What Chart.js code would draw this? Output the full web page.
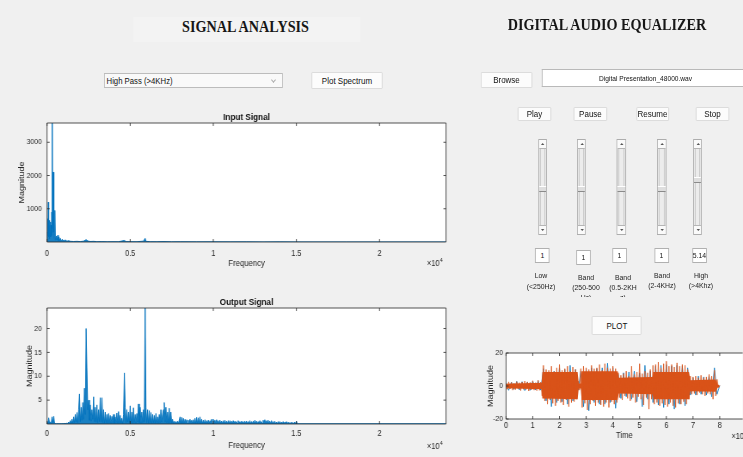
<!DOCTYPE html>
<html>
<head>
<meta charset="utf-8">
<script src="https://cdn.jsdelivr.net/npm/chart.js"></script>
<style>
html, body { margin: 0; padding: 0; width: 743px; height: 457px; overflow: hidden; background: #f0f0f0; }
/* the screenshot is squeezed horizontally, so the page is laid out wider and scaled */
#stage { position: absolute; left: 0; top: 0; width: 864px; height: 457px; overflow: hidden; transform: scaleX(0.86); transform-origin: 0 0;
         font-family: 'Liberation Sans', Arial, sans-serif; color: #111; }
.abs { position: absolute; }
.title { position: absolute; font-family: 'Liberation Serif', 'Times New Roman', serif; font-weight: bold; font-size: 16.5px;
         line-height: 1; white-space: nowrap; transform: translateX(-50%); color: #161616; }
.btn { position: absolute; box-sizing: border-box; background: #fcfcfc; border: 1px solid #d9d9d9; border-radius: 1px;
       font-size: 9.3px; display: flex; align-items: center; justify-content: center; white-space: nowrap; }
.popup { position: absolute; box-sizing: border-box; background: #f9f9f9; border: 1px solid #bcbcbc; font-size: 9px;
         display: flex; align-items: center; padding-left: 2px; }
.chev { position: absolute; right: 8px; top: 4px; width: 3px; height: 3px; border-right: 1px solid #aaa; border-bottom: 1px solid #aaa; transform: rotate(45deg); }
.edit { position: absolute; box-sizing: border-box; background: #fff; border: 1px solid #b9b9b9; border-right: none; display: flex; align-items: center; justify-content: center; white-space: nowrap; }
.slider { position: absolute; top: 139px; width: 10.5px; height: 96px; box-sizing: border-box; border: 1px solid #adadad; background: #ececec; }
.slider .arr { position: absolute; left: 0; right: 0; height: 8px; background: #fafafa; }
.slider .up { top: 0; border-bottom: 1px solid #b5b5b5; }
.slider .dn { bottom: 0; border-top: 1px solid #b5b5b5; }
.slider .up::after, .slider .dn::after { content: ''; position: absolute; left: 2.8px; top: 3px; width: 0; height: 0;
         border-left: 2px solid transparent; border-right: 2px solid transparent; }
.slider .up::after { border-bottom: 2px solid #555; }
.slider .dn::after { border-top: 2px solid #555; }
.slider .track { position: absolute; left: 1px; right: 1px; top: 9px; bottom: 9px; border-left: 1px solid #c8c8c8; border-right: 1px solid #c8c8c8; }
.slider .thumb { position: absolute; left: 0; right: 0; height: 4px; background: #dedede; border-top: 1px solid #fff; border-bottom: 1px solid #8a8a8a; }
.val { position: absolute; box-sizing: border-box; width: 17.4px; height: 15px; background: #fff; border: 1px solid #b0b0b0;
       font-size: 8px; display: flex; align-items: center; justify-content: center; }
.lab { position: absolute; width: 46px; margin-left: -23px; text-align: center; font-size: 8px; overflow: hidden; color: #222; }
.plot { position: absolute; }
</style>
</head>
<body>
<div id="stage">
  <div class="abs" style="left:154.7px;top:17px;width:264px;height:25px;background:#f3f3f3"></div>
  <div class="title" style="left:285.5px;top:19.2px">SIGNAL ANALYSIS</div>
  <div class="title" style="left:705.8px;top:16.7px">DIGITAL AUDIO EQUALIZER</div>

  <div class="popup" style="left:120.9px;top:73px;width:208px;height:15px">High Pass (&gt;4KHz)<i class="chev"></i></div>
  <div class="btn" style="left:361.6px;top:72px;width:83.7px;height:17px">Plot Spectrum</div>

  <div class="btn" style="left:559.3px;top:72px;width:59.3px;height:16px">Browse</div>
  <div class="edit" style="left:630.2px;top:69px;width:240px;height:18px;font-size:7.7px">Digital Presentation_48000.wav</div>

  <div class="btn" style="left:602.3px;top:107px;width:38.4px;height:14px">Play</div>
  <div class="btn" style="left:667.4px;top:107px;width:38.4px;height:14px">Pause</div>
  <div class="btn" style="left:739.5px;top:107px;width:38.4px;height:14px">Resume</div>
  <div class="btn" style="left:809.3px;top:107px;width:38.4px;height:14px">Stop</div>

  <div class="slider" style="left:625.6px"><div class="track"></div><div class="arr up"></div><div class="thumb" style="top:46px"></div><div class="arr dn"></div></div>
  <div class="slider" style="left:670.9px"><div class="track"></div><div class="arr up"></div><div class="thumb" style="top:46px"></div><div class="arr dn"></div></div>
  <div class="slider" style="left:717.4px"><div class="track"></div><div class="arr up"></div><div class="thumb" style="top:46px"></div><div class="arr dn"></div></div>
  <div class="slider" style="left:764px"><div class="track"></div><div class="arr up"></div><div class="thumb" style="top:46px"></div><div class="arr dn"></div></div>
  <div class="slider" style="left:805.8px"><div class="track"></div><div class="arr up"></div><div class="thumb" style="top:37px"></div><div class="arr dn"></div></div>

  <div class="val" style="left:622.1px;top:248px">1</div>
  <div class="val" style="left:669.8px;top:250px">1</div>
  <div class="val" style="left:711.6px;top:248px">1</div>
  <div class="val" style="left:760.5px;top:248px">1</div>
  <div class="val" style="left:804.7px;top:248px">5.14</div>

  <div class="lab" style="left:629.1px;top:269.5px;line-height:11px">Low<br>(&lt;250Hz)</div>
  <div class="lab" style="left:681.4px;top:273px;line-height:10px;height:24px">Band<br>(250-500<br>Hz)</div>
  <div class="lab" style="left:724.4px;top:273px;line-height:10px;height:24px">Band<br>(0.5-2KH<br>z)</div>
  <div class="lab" style="left:769.8px;top:271px;line-height:10px">Band<br>(2-4KHz)</div>
  <div class="lab" style="left:815.1px;top:271px;line-height:10px">High<br>(&gt;4Khz)</div>

  <div class="btn" style="left:688.4px;top:316px;width:58.1px;height:19px">PLOT</div>

  <div class="plot" style="left:0;top:100px;width:535px;height:180px"><canvas id="input-chart"></canvas></div>
  <div class="plot" style="left:0;top:285px;width:535px;height:172px"><canvas id="output-chart"></canvas></div>
  <div class="plot" style="left:558px;top:340px;width:306px;height:117px"><canvas id="time-chart"></canvas></div>
</div>

<script>
// Input spectrum: frequency (Hz) and magnitude
const inFreq = [0, 20, 40, 60, 80, 100, 120, 140, 160, 180, 200, 220, 240, 260, 280, 300, 320, 340, 360, 380,
    400, 420, 440, 460, 480, 500, 520, 560, 600, 640, 680, 720, 760, 800, 860, 920, 1000, 1100, 1200, 1300,
    1400, 1600, 1800, 2000, 2200, 2350, 2450, 2600, 2800, 3000, 3300, 3600, 4000, 4300, 4650, 4750, 5000, 5400, 5800, 5900,
    5950, 6200, 6600, 7000, 7500, 8000, 9000, 10000, 11000, 12000, 13000, 14000, 15000, 16000, 18000, 20000, 22000, 24000];
const inMag = [80, 300, 700, 200, 1200, 150, 500, 100, 650, 200, 600, 150, 500, 200, 900, 400, 4200, 300, 2100, 2100,
    300, 900, 100, 400, 950, 60, 120, 180, 60, 200, 40, 150, 40, 110, 40, 80, 30, 60, 25, 40,
    20, 15, 20, 12, 25, 70, 30, 15, 20, 10, 12, 8, 10, 8, 45, 12, 10, 8, 25, 110,
    20, 10, 8, 12, 6, 8, 5, 6, 4, 5, 3, 4, 3, 2, 2, 2, 2, 2];

// Output spectrum: 50 Hz bins from 0 to 15 kHz, then a flat tail
const outBinHz = 50;
const outMag = [
    0.6, 0.1, 1.3, 0.2, 0.4, 0.1, 1.5, 0.3, 1.6, 0.2, 0.1, 0.05, 0.1, 0.05, 0.1, 0.05, 0.08, 0.05, 0.1, 0.05,
    0.1, 0.05, 0.15, 0.05, 0.2, 0.1, 0.4, 0.1, 0.7, 0.2, 1.0, 0.2, 1.5, 0.3, 2.0, 0.4, 2.4, 0.3, 3.0, 6.3,
    0.5, 3.5, 0.8, 4.5, 1.0, 7.5, 2.0, 20.0, 11.3, 3.0, 5.0, 0.8, 4.0, 0.6, 3.0, 1.0, 5.7, 0.5, 3.5, 0.4,
    4.0, 0.3, 3.0, 0.5, 5.5, 0.4, 5.5, 0.3, 3.0, 0.2, 2.5, 0.3, 2.0, 0.2, 2.2, 0.3, 1.8, 0.2, 1.6, 0.3,
    2.0, 0.2, 1.5, 0.3, 2.3, 0.2, 2.6, 0.3, 1.8, 0.2, 1.2, 0.1, 2.0, 10.7, 3.5, 0.3, 3.0, 0.4, 2.5, 0.3,
    3.8, 0.3, 2.5, 0.2, 3.4, 0.3, 2.0, 0.2, 2.2, 0.4, 4.2, 0.3, 3.5, 0.2, 2.5, 0.3, 3.0, 0.4, 24.5, 3.5,
    0.3, 3.0, 0.2, 2.8, 0.3, 2.4, 0.2, 2.0, 0.3, 1.8, 0.2, 2.2, 0.3, 1.5, 0.2, 2.0, 0.3, 3.0, 0.4, 2.0,
    3.0, 4.5, 0.4, 3.5, 0.3, 2.5, 0.2, 3.3, 0.3, 2.5, 0.2, 1.0, 0.1, 0.6, 0.1, 0.5, 0.1, 0.6, 0.1, 0.8,
    1.5, 0.1, 1.4, 0.1, 1.2, 0.1, 1.0, 0.1, 0.9, 0.1, 0.8, 0.1, 1.0, 0.1, 0.8, 0.1, 0.9, 0.1, 1.2, 0.1,
    1.4, 0.1, 1.3, 0.1, 1.5, 0.1, 1.0, 0.1, 0.8, 0.1, 0.9, 0.1, 0.7, 0.1, 0.8, 0.1, 0.7, 0.1, 1.0, 0.1,
    1.0, 0.1, 0.8, 0.1, 0.9, 0.1, 0.7, 0.1, 0.8, 0.1, 0.6, 0.1, 0.7, 0.1, 0.8, 0.1, 0.6, 0.1, 0.7, 0.1,
    0.7, 0.1, 0.6, 0.05, 0.7, 0.1, 0.6, 0.05, 0.5, 0.1, 0.7, 0.1, 0.5, 0.05, 0.6, 0.1, 0.5, 0.05, 0.6, 0.1,
    0.6, 0.05, 0.5, 0.1, 0.7, 0.05, 0.5, 0.1, 0.6, 0.05, 0.8, 0.1, 0.6, 0.05, 0.5, 0.1, 0.7, 0.05, 0.5, 0.1,
    0.8, 0.1, 0.9, 0.05, 0.7, 0.1, 0.8, 0.05, 0.6, 0.1, 0.7, 0.05, 0.5, 0.05, 0.6, 0.05, 0.4, 0.05, 0.5, 0.05,
    0.5, 0.05, 0.4, 0.05, 0.5, 0.05, 0.4, 0.05, 0.5, 0.05, 0.4, 0.05, 0.3, 0.05, 0.4, 0.05, 0.3, 0.05, 0.4, 0.05,
    0.6];
const outTailFreq = [15050, 24000];
const outTailMag = [0.05, 0.05];

// Time signal (x in units of 1e5 samples): two channels
const orangeStep = 0.05;
const sigOrange = [
    1.5, -2.0, 2.5, -1.8, 2.2, -2.5, 1.8, -2.2, 2.6, -1.6, 2.0, -2.8, 2.4, -2.0, 3.0, -2.2, 2.5, -3.0, 2.2, -2.4,
    3.2, -2.5, 2.0, -2.8, 3.5, -2.6, 2.4, -6.0, 12.5, -9.0, 10.0, -11.0, 9.5, -8.5, 12.0, -10.5, 8.8, -12.0, 11.0, -9.0,
    13.0, -10.0, 9.5, -11.5, 10.5, -8.5, 12.0, -12.5, 9.0, -10.0, 11.5, -9.5, 10.0, -8.0, 3.0, -2.5, 10.5, -13.0, 12.0, -10.5,
    11.0, -14.5, 10.0, -11.0, 12.5, -9.0, 10.5, -12.0, 11.0, -10.0, 13.0, -11.5, 9.5, -12.5, 13.5, -10.0, 11.0, -13.0, 10.5, -9.5,
    12.0, -11.0, 10.5, -10.0, 8.0, -7.0, 6.5, -8.5, 7.5, -6.0, 9.0, -7.5, 6.0, -9.0, 12.0, -7.0, 7.0, -10.0, 8.5, -6.5,
    13.5, -8.0, 7.5, -11.5, 9.0, -7.0, 8.0, -14.0, 10.0, -8.0, 12.5, -11.0, 13.0, -10.0, 14.5, -12.0, 11.0, -10.5, 13.5, -11.5,
    15.0, -12.5, 12.0, -10.0, 13.0, -12.0, 11.5, -13.0, 14.0, -10.5, 12.0, -11.0, 13.0, -9.5, 12.5, -11.0, 10.0, -8.0, 6.0, -5.0,
    5.5, -4.5, 6.0, -5.5, 5.0, -4.0, 6.5, -5.0, 5.0, -6.0, 5.5, -4.5, 7.0, -5.0, 6.0, -8.0, 9.5, -6.0, 4.0, -1.0,
    0.3];
const blueStep = 0.1;
const sigBlue = [
    2.0, -2.6, 2.4, -2.0, 2.8, -2.4, 2.6, -2.8, 2.4, -2.6,
    3.0, -2.4, 3.2, -2.5, 10.5, -9.0, 8.0, -12.5, 9.0, -10.0,
    11.0, -9.5, 10.0, -11.0, 12.5, -9.0, 10.0, -2.5, 9.0, -12.5,
    10.0, -15.0, 11.0, -10.0, 10.5, -11.0, 11.0, -11.0, 13.8, -10.0,
    11.0, -13.5, 7.0, -7.5, 8.0, -6.5, 8.5, -8.0, 9.0, -9.5,
    8.0, -12.5, 12.5, -8.0, 9.0, -10.0, 12.0, -11.5, 12.5, -13.0,
    13.0, -11.0, 12.0, -14.0, 12.5, -11.0, 12.0, -12.0, 11.0, -5.5,
    5.0, -5.5, 6.0, -5.0, 5.5, -5.5, 6.0, -6.5, 11.0, -5.0,
    0.2];
// Dense core of the orange channel (where the trace is solid)
const coreTime = [0, 1.0, 1.33, 1.36, 2.68, 2.72, 2.8, 2.83, 4.18, 4.22, 5.48, 5.52, 6.85, 6.9, 7.85, 7.92, 8.0];
const coreUpper = [1.4, 1.8, 1.8, 8.5, 8.5, 1.5, 1.5, 9.0, 9.0, 5.0, 5.5, 8.5, 8.5, 3.5, 4.0, 1.0, 0.2];
const coreLower = [-1.4, -1.8, -1.8, -7.5, -8.0, -1.5, -1.5, -8.5, -8.5, -4.5, -5.0, -8.0, -8.0, -3.2, -3.5, -1.0, -0.2];

// Axis ticks
const freqTicks = [0, 5000, 10000, 15000, 20000];
const freqTickLabels = ['0', '0.5', '1', '1.5', '2'];
const inYTicks = [1000, 2000, 3000];
const outYTicks = [5, 10, 15, 20];
const timeTicks = [0, 1, 2, 3, 4, 5, 6, 7, 8];
const timeYTicks = [-20, 0, 20];

const FONT = "'Liberation Sans', Arial, sans-serif";
const INK = '#262626';
const BLUE = '#0072bd';
const ORANGE = '#d95319';

// MATLAB-style axes: white box, border and inward ticks, plus the x10^n exponent
const matlabAxes = {
    id: 'matlabAxes',
    beforeDraw(chart) {
        const { ctx, chartArea: a } = chart;
        ctx.save();
        ctx.fillStyle = '#fff';
        ctx.fillRect(a.left, a.top, a.width, a.height);
        ctx.restore();
    },
    afterDraw(chart, args, opts) {
        const { ctx, chartArea: a, scales: { x, y } } = chart;
        const len = 3;
        ctx.save();
        ctx.strokeStyle = INK;
        ctx.lineWidth = 0.8;
        ctx.beginPath();
        // the time axes run past the window edge, so their right side stays open
        if (opts.openRight) {
            ctx.moveTo(a.right, a.top); ctx.lineTo(a.left, a.top);
            ctx.lineTo(a.left, a.bottom); ctx.lineTo(a.right, a.bottom);
        } else {
            ctx.rect(a.left, a.top, a.width, a.height);
        }
        x.ticks.forEach(t => {
            const px = x.getPixelForValue(t.value);
            ctx.moveTo(px, a.bottom); ctx.lineTo(px, a.bottom - len);
            ctx.moveTo(px, a.top); ctx.lineTo(px, a.top + len);
        });
        y.ticks.forEach(t => {
            const py = y.getPixelForValue(t.value);
            ctx.moveTo(a.left, py); ctx.lineTo(a.left + len, py);
            if (!opts.openRight) { ctx.moveTo(a.right, py); ctx.lineTo(a.right - len, py); }
        });
        ctx.stroke();
        if (opts.exponent) {
            const ex = a.right + opts.dx;
            const ey = a.bottom + opts.dy;
            ctx.fillStyle = INK;
            ctx.textAlign = 'left';
            ctx.textBaseline = 'middle';
            ctx.font = `8.5px ${FONT}`;
            ctx.fillText('\u00d710', ex, ey);
            const w = ctx.measureText('\u00d710').width;
            ctx.font = `6px ${FONT}`;
            ctx.fillText(opts.exponent, ex + w + 0.5, ey - 4);
        }
        ctx.restore();
    }
};

const plainTick = v => String(v);

function spectrumChart(canvasId, title, points, yMax, yTicks, box) {
    return new Chart(document.getElementById(canvasId), {
        type: 'line',
        data: {
            datasets: [{
                data: points,
                borderColor: BLUE,
                backgroundColor: 'rgba(0, 114, 189, 0.9)',
                fill: 'origin',
                borderWidth: 0.9,
                pointRadius: 0,
                tension: 0
            }]
        },
        options: {
            responsive: true,
            maintainAspectRatio: false,
            animation: false,
            events: [],
            layout: { padding: { left: 0, right: 16.4, top: 0, bottom: 0 } },
            plugins: {
                legend: { display: false },
                tooltip: { enabled: false },
                title: {
                    display: true,
                    text: title,
                    fullSize: false,
                    color: '#111',
                    font: { family: FONT, size: 9.5, weight: 'bold' },
                    padding: { top: 11.3, bottom: 0.3 }
                },
                matlabAxes: { exponent: '4', dx: -22, dy: box.expDy }
            },
            scales: {
                x: {
                    type: 'linear',
                    min: 0,
                    max: 24000,
                    afterBuildTicks: s => { s.ticks = freqTicks.map(v => ({ value: v })); },
                    afterFit: s => { s.height = box.xHeight; },
                    grid: { display: false, drawTicks: false },
                    border: { display: false },
                    ticks: {
                        autoSkip: false, maxRotation: 0, padding: box.xTickPad,
                        color: INK, font: { family: FONT, size: 8.5 },
                        callback: (v, i) => freqTickLabels[i]
                    },
                    title: {
                        display: true, text: 'Frequency', color: INK,
                        font: { family: FONT, size: 9 },
                        padding: { top: 0, bottom: box.xTitlePad }
                    }
                },
                y: {
                    type: 'linear',
                    min: 0,
                    max: yMax,
                    afterBuildTicks: s => { s.ticks = yTicks.map(v => ({ value: v })); },
                    afterFit: s => { s.width = 54.7; },
                    grid: { display: false, drawTicks: false },
                    border: { display: false },
                    ticks: { autoSkip: false, padding: 6, color: INK, font: { family: FONT, size: 8 }, callback: plainTick },
                    title: {
                        display: true, text: 'Magnitude', color: INK,
                        font: { family: FONT, size: 9 },
                        padding: { top: box.yTitlePad, bottom: 0 }
                    }
                }
            }
        },
        plugins: [matlabAxes]
    });
}

const inPoints = inFreq.map((f, i) => ({ x: f, y: inMag[i] }));
const outPoints = outMag.map((m, i) => ({ x: i * outBinHz, y: m }))
    .concat(outTailFreq.map((f, i) => ({ x: f, y: outTailMag[i] })));

spectrumChart('input-chart', 'Input Signal', inPoints, 3580, inYTicks,
    { xHeight: 38, xTickPad: 6.4, xTitlePad: 10.6, yTitlePad: 20, expDy: 22 });
spectrumChart('output-chart', 'Output Signal', outPoints, 24.3, outYTicks,
    { xHeight: 33, xTickPad: 4.9, xTitlePad: 5.6, yTitlePad: 29.5, expDy: 23 });

const line = (data, color, extra) => Object.assign({
    data, borderColor: color, borderWidth: 0.8, pointRadius: 0, tension: 0
}, extra);

new Chart(document.getElementById('time-chart'), {
    type: 'line',
    data: {
        // first dataset is painted last (on top)
        datasets: [
            line(sigOrange.map((v, i) => ({ x: i * orangeStep, y: v })), ORANGE),
            line(coreTime.map((t, i) => ({ x: t, y: coreUpper[i] })), ORANGE, { borderWidth: 0, fill: '+1', backgroundColor: ORANGE }),
            line(coreTime.map((t, i) => ({ x: t, y: coreLower[i] })), ORANGE, { borderWidth: 0 }),
            line(sigBlue.map((v, i) => ({ x: i * blueStep, y: v })), BLUE)
        ]
    },
    options: {
        responsive: true,
        maintainAspectRatio: false,
        animation: false,
        events: [],
        layout: { padding: { left: 0, right: 0, top: 13, bottom: 0 } },
        plugins: {
            legend: { display: false },
            tooltip: { enabled: false },
            matlabAxes: { exponent: '5', dx: -13, dy: 18, openRight: true }
        },
        scales: {
            x: {
                type: 'linear',
                min: 0,
                max: 8.86,
                afterBuildTicks: s => { s.ticks = timeTicks.map(v => ({ value: v })); },
                afterFit: s => { s.height = 38; },
                grid: { display: false, drawTicks: false },
                border: { display: false },
                ticks: { autoSkip: false, maxRotation: 0, padding: 1.9, color: INK, font: { family: FONT, size: 8.5 } },
                title: {
                    display: true, text: 'Time', color: INK,
                    font: { family: FONT, size: 9 },
                    padding: { top: 0, bottom: 15.6 }
                }
            },
            y: {
                type: 'linear',
                min: -20,
                max: 20,
                afterBuildTicks: s => { s.ticks = timeYTicks.map(v => ({ value: v })); },
                afterFit: s => { s.width = 30.4; },
                grid: { display: false, drawTicks: false },
                border: { display: false },
                ticks: { autoSkip: false, padding: 3.5, color: INK, font: { family: FONT, size: 8 }, callback: plainTick },
                title: {
                    display: true, text: 'Magnitude', color: INK,
                    font: { family: FONT, size: 9 },
                    padding: { top: 7.5, bottom: 0 }
                }
            }
        }
    },
    plugins: [matlabAxes]
});
</script>
</body>
</html>
